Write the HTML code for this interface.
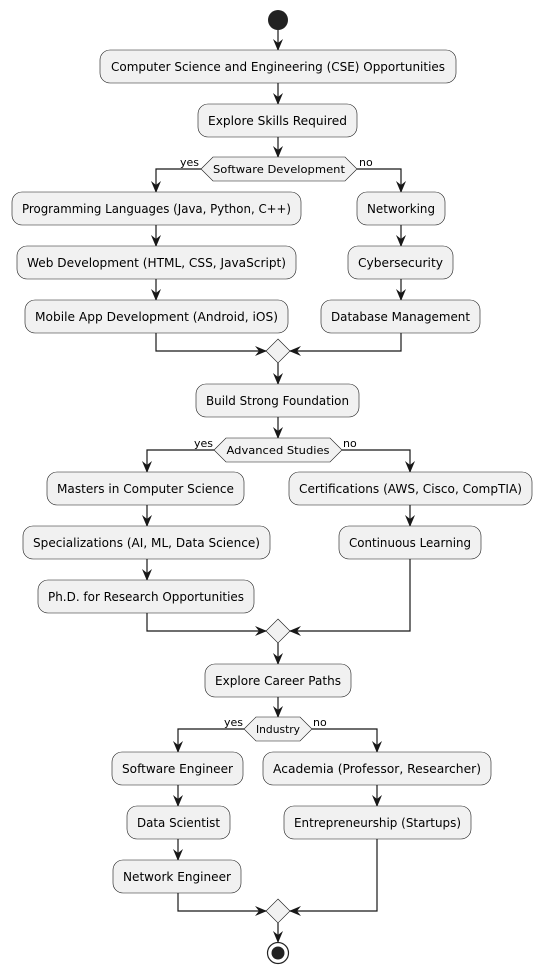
<!DOCTYPE html>
<html><head><meta charset="utf-8"><style>
html,body{margin:0;padding:0;background:#fff;}
svg{display:block;}
text{font-family:"DejaVu Sans","Liberation Sans",sans-serif;fill:#000;}
.b{fill:#f1f1f1;stroke:#181818;stroke-width:0.6;}
.l{fill:none;stroke:#181818;stroke-width:1.2;}
</style></head><body>
<svg width="541" height="975" viewBox="0 0 541 975" xmlns="http://www.w3.org/2000/svg">
<defs>
<marker id="a" viewBox="0 0 12 10" refX="11" refY="5" markerWidth="12" markerHeight="10" markerUnits="userSpaceOnUse" orient="auto">
<path d="M0,0 L12,5 L0,10 L4,5 Z" fill="#181818"/>
</marker>
</defs>
<circle cx="278" cy="20" r="10" fill="#222"/>

<g class="l" marker-end="url(#a)">
<path d="M278,30V50"/><path d="M278,83V104"/><path d="M278,137V157"/>
<path d="M201,169H156V192"/><path d="M357,169H401V192"/>
<path d="M156,225V246"/><path d="M156,279V300"/>
<path d="M401,225V246"/><path d="M401,279V300"/>
<path d="M156,333V351H266"/><path d="M401,333V351H290"/>
<path d="M278,363V384"/><path d="M278,417V438"/>
<path d="M214,450H147V472"/><path d="M342,450H410V472"/>
<path d="M147,505V526"/><path d="M147,559V580"/><path d="M410,505V526"/>
<path d="M147,613V631H266"/><path d="M410,559V631H290"/>
<path d="M278,643V664"/><path d="M278,697V717"/>
<path d="M244,729H178V752"/><path d="M312,729H377V752"/>
<path d="M178,785V806"/><path d="M178,839V860"/><path d="M377,785V806"/>
<path d="M178,893V911H266"/><path d="M377,839V911H290"/>
<path d="M278,923V942"/>
</g>

<g font-size="12">
<rect class="b" x="100" y="50" width="356" height="33" rx="10"/><text x="278" y="71" text-anchor="middle" textLength="334" lengthAdjust="spacingAndGlyphs">Computer Science and Engineering (CSE) Opportunities</text>
<rect class="b" x="198" y="104" width="159" height="33" rx="10"/><text x="277.5" y="125" text-anchor="middle" textLength="139" lengthAdjust="spacingAndGlyphs">Explore Skills Required</text>

<rect class="b" x="12" y="192" width="289" height="33" rx="10"/><text x="156.5" y="213" text-anchor="middle" textLength="269" lengthAdjust="spacingAndGlyphs">Programming Languages (Java, Python, C++)</text>
<rect class="b" x="17" y="246" width="279" height="33" rx="10"/><text x="156.5" y="267" text-anchor="middle" textLength="259" lengthAdjust="spacingAndGlyphs">Web Development (HTML, CSS, JavaScript)</text>
<rect class="b" x="25" y="300" width="263" height="33" rx="10"/><text x="156.5" y="321" text-anchor="middle" textLength="243" lengthAdjust="spacingAndGlyphs">Mobile App Development (Android, iOS)</text>
<rect class="b" x="357" y="192" width="88" height="33" rx="10"/><text x="401" y="213" text-anchor="middle" textLength="68" lengthAdjust="spacingAndGlyphs">Networking</text>
<rect class="b" x="348" y="246" width="105" height="33" rx="10"/><text x="400.5" y="267" text-anchor="middle" textLength="85" lengthAdjust="spacingAndGlyphs">Cybersecurity</text>
<rect class="b" x="321" y="300" width="159" height="33" rx="10"/><text x="400.5" y="321" text-anchor="middle" textLength="139" lengthAdjust="spacingAndGlyphs">Database Management</text>

<rect class="b" x="196" y="384" width="163" height="33" rx="10"/><text x="277.5" y="405" text-anchor="middle" textLength="143" lengthAdjust="spacingAndGlyphs">Build Strong Foundation</text>

<rect class="b" x="47" y="472" width="197" height="33" rx="10"/><text x="145.5" y="493" text-anchor="middle" textLength="177" lengthAdjust="spacingAndGlyphs">Masters in Computer Science</text>
<rect class="b" x="23" y="526" width="247" height="33" rx="10"/><text x="146.5" y="547" text-anchor="middle" textLength="227" lengthAdjust="spacingAndGlyphs">Specializations (AI, ML, Data Science)</text>
<rect class="b" x="38" y="580" width="216" height="33" rx="10"/><text x="146" y="601" text-anchor="middle" textLength="196" lengthAdjust="spacingAndGlyphs">Ph.D. for Research Opportunities</text>
<rect class="b" x="289" y="472" width="243" height="33" rx="10"/><text x="410.5" y="493" text-anchor="middle" textLength="223" lengthAdjust="spacingAndGlyphs">Certifications (AWS, Cisco, CompTIA)</text>
<rect class="b" x="339" y="526" width="142" height="33" rx="10"/><text x="410" y="547" text-anchor="middle" textLength="122" lengthAdjust="spacingAndGlyphs">Continuous Learning</text>

<rect class="b" x="205" y="664" width="146" height="33" rx="10"/><text x="278" y="685" text-anchor="middle" textLength="126" lengthAdjust="spacingAndGlyphs">Explore Career Paths</text>

<rect class="b" x="112" y="752" width="131" height="33" rx="10"/><text x="177.5" y="773" text-anchor="middle" textLength="111" lengthAdjust="spacingAndGlyphs">Software Engineer</text>
<rect class="b" x="127" y="806" width="103" height="33" rx="10"/><text x="178.5" y="827" text-anchor="middle" textLength="83" lengthAdjust="spacingAndGlyphs">Data Scientist</text>
<rect class="b" x="113" y="860" width="128" height="33" rx="10"/><text x="177" y="881" text-anchor="middle" textLength="108" lengthAdjust="spacingAndGlyphs">Network Engineer</text>
<rect class="b" x="263" y="752" width="228" height="33" rx="10"/><text x="377" y="773" text-anchor="middle" textLength="208" lengthAdjust="spacingAndGlyphs">Academia (Professor, Researcher)</text>
<rect class="b" x="284" y="806" width="187" height="33" rx="10"/><text x="377.5" y="827" text-anchor="middle" textLength="167" lengthAdjust="spacingAndGlyphs">Entrepreneurship (Startups)</text>
</g>

<g font-size="11">
<polygon class="b" points="201,169 213,157 345,157 357,169 345,181 213,181"/>
<text x="279" y="173" text-anchor="middle" textLength="132" lengthAdjust="spacingAndGlyphs">Software Development</text>
<text x="199" y="166" text-anchor="end">yes</text><text x="359" y="166">no</text>

<polygon class="b" points="214,450 226,438 330,438 342,450 330,462 226,462"/>
<text x="278" y="454" text-anchor="middle" textLength="103" lengthAdjust="spacingAndGlyphs">Advanced Studies</text>
<text x="213" y="447" text-anchor="end">yes</text><text x="343" y="447">no</text>

<polygon class="b" points="244,729 256,717 300,717 312,729 300,741 256,741"/>
<text x="278" y="733" text-anchor="middle" textLength="44" lengthAdjust="spacingAndGlyphs">Industry</text>
<text x="243" y="726" text-anchor="end">yes</text><text x="313" y="726">no</text>
</g>

<polygon class="b" points="278,339 290,351 278,363 266,351"/>
<polygon class="b" points="278,619 290,631 278,643 266,631"/>
<polygon class="b" points="278,899 290,911 278,923 266,911"/>

<circle cx="278" cy="953" r="10.5" fill="none" stroke="#222" stroke-width="1.2"/>
<circle cx="278" cy="953" r="6.5" fill="#222"/>
</svg>
</body></html>
